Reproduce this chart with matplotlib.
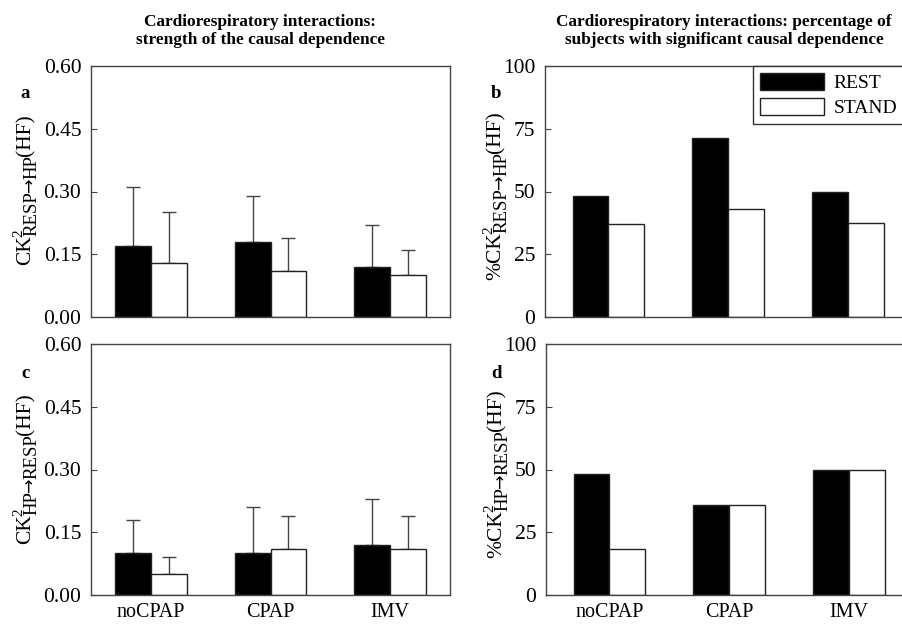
import matplotlib
matplotlib.use("Agg")
import matplotlib.pyplot as plt
import numpy as np

plt.rcParams['font.family'] = ['Liberation Serif', 'DejaVu Serif']

categories = ['noCPAP', 'CPAP', 'IMV']
series = ['REST', 'STAND']

# Panel a: CK2 RESP->HP (mean, SD)
a_rest = [0.17, 0.18, 0.12]
a_rest_sd = [0.14, 0.11, 0.10]
a_stand = [0.13, 0.11, 0.10]
a_stand_sd = [0.12, 0.08, 0.06]

# Panel b: % subjects RESP->HP
b_rest = [48.1, 71.4, 50.0]
b_stand = [37.0, 42.9, 37.5]

# Panel c: CK2 HP->RESP (mean, SD)
c_rest = [0.10, 0.10, 0.12]
c_rest_sd = [0.08, 0.11, 0.11]
c_stand = [0.05, 0.11, 0.11]
c_stand_sd = [0.04, 0.08, 0.08]

# Panel d: % subjects HP->RESP
d_rest = [48.1, 35.7, 50.0]
d_stand = [18.5, 35.7, 50.0]

ck_ticks = [0.0, 0.15, 0.30, 0.45, 0.60]
pc_ticks = [0, 25, 50, 75, 100]

W, H = 902, 624
fig = plt.figure(figsize=(W/100, H/100), dpi=100)
renderer = fig.canvas.get_renderer()

def ax_px(l, t, r, b):
    return fig.add_axes([l/W, 1 - b/H, (r-l)/W, (b-t)/H])

FSY = 15.5
FSX = 14.5
edge = '#222222'
spine_c = '#444444'

def style(ax, ylim, yticks, fmt, xlim):
    ax.set_xlim(*xlim)
    ax.set_ylim(*ylim)
    ax.set_yticks(yticks)
    ax.set_yticklabels([fmt.format(v) for v in yticks], fontsize=FSY)
    ax.tick_params(axis='y', direction='in', length=4, pad=7, color=spine_c)
    ax.tick_params(axis='x', length=0, pad=5.5)
    for s in ax.spines.values():
        s.set_color(spine_c)
        s.set_linewidth(1.0)

x = np.arange(len(categories))
bw = 0.30

def bars(ax, rest, stand, rest_sd=None, stand_sd=None):
    ax.bar(x - bw/2, rest, bw, color='black', edgecolor=edge, linewidth=1, label=series[0], zorder=2)
    ax.bar(x + bw/2, stand, bw, color='white', edgecolor=edge, linewidth=1, label=series[1], zorder=2)
    if rest_sd is not None:
        ekw = dict(fmt='none', ecolor='#444444', elinewidth=1, capsize=5, capthick=1, zorder=1)
        ax.errorbar(x - bw/2, rest, yerr=[np.zeros(3), rest_sd], **ekw)
        ax.errorbar(x + bw/2, stand, yerr=[np.zeros(3), stand_sd], **ekw)

ax_a = ax_px(91, 66, 450, 317)
ax_b = ax_px(545, 66, 904, 317)
ax_c = ax_px(91, 344, 450, 595)
ax_d = ax_px(546, 344, 905, 595)

bars(ax_a, a_rest, a_stand, a_rest_sd, a_stand_sd)
bars(ax_b, b_rest, b_stand)
bars(ax_c, c_rest, c_stand, c_rest_sd, c_stand_sd)
bars(ax_d, d_rest, d_stand)

style(ax_a, (0, 0.6), ck_ticks, '{:.2f}', (-0.5, 2.5))
style(ax_c, (0, 0.6), ck_ticks, '{:.2f}', (-0.5, 2.5))
style(ax_b, (0, 100), pc_ticks, '{:.0f}', (-0.53, 2.47))
style(ax_d, (0, 100), pc_ticks, '{:.0f}', (-0.53, 2.47))

for ax in (ax_a, ax_b):
    ax.set_xticks([])
for ax in (ax_c, ax_d):
    ax.set_xticks(x)
    ax.set_xticklabels(categories, fontsize=FSX)

# Rotated y labels built from pieces (main text, superscript, subscript)
def vlabel(xb, yb, main, sub1, sub2, main_fs=15.5, sup_fs=11, sub_fs=13.5):
    def put(px, py, s, fs, family=None):
        kw = {}
        if family:
            kw['family'] = family
        t = fig.text(px/W, 1 - py/H, s, fontsize=fs, rotation=90,
                     rotation_mode='anchor', ha='left', va='baseline', **kw)
        return t.get_window_extent(renderer).height
    cur = yb
    cur -= put(xb, cur, main, main_fs) - 1
    put(xb - 8, cur + 1, '2', sup_fs)
    cur -= put(xb + 6, cur, sub1, sub_fs) - 1
    cur -= put(xb + 5, cur, '\u2192', sub_fs - 1, ['DejaVu Sans']) - 1
    cur -= put(xb + 6, cur, sub2, sub_fs) - 1
    put(xb, cur, '(HF)', main_fs)

vlabel(30, 265, 'CK', 'RESP', 'HP')
vlabel(500, 280, '%CK', 'RESP', 'HP')
vlabel(30, 544, 'CK', 'HP', 'RESP')
vlabel(501, 558, '%CK', 'HP', 'RESP')

# panel letters
for (px, py, t) in ((25, 93, 'a'), (496, 93, 'b'), (25, 373, 'c'), (496, 373, 'd')):
    fig.text(px/W, 1 - py/H, t, fontsize=13.5, fontweight='bold', ha='center', va='center')

fig.text(260/W, 1 - 31/H, 'Cardiorespiratory interactions:\nstrength of the causal dependence',
         fontsize=12.4, fontweight='bold', ha='center', va='center', linespacing=1.15)
fig.text(724/W, 1 - 31/H, 'Cardiorespiratory interactions: percentage of\nsubjects with significant causal dependence',
         fontsize=12.4, fontweight='bold', ha='center', va='center', linespacing=1.15)

leg = ax_b.legend(loc='upper right', bbox_to_anchor=(1.0, 1.0), borderaxespad=0, fontsize=14,
                  fancybox=False, edgecolor='#333333', framealpha=1, handlelength=3.3,
                  handleheight=1.0, handletextpad=0.5, labelspacing=0.3, borderpad=0.35)
leg.get_frame().set_linewidth(1.0)

fig.savefig('out.png', dpi=100)
